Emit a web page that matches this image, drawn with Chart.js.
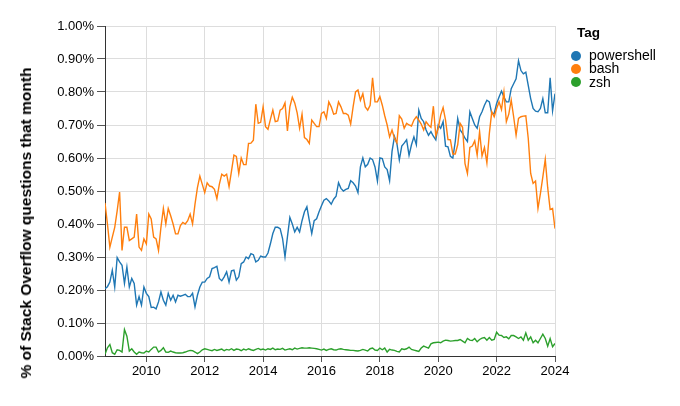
<!DOCTYPE html>
<html>
<head>
<meta charset="utf-8">
<script src="https://cdn.jsdelivr.net/npm/chart.js@4.4.1/dist/chart.umd.min.js"></script>
<style>
  body { margin: 0; background: #fff; }
  #wrap { position: relative; width: 680px; height: 406px; font-family: "Liberation Sans", Arial, sans-serif; color: #000; }
  #ytitle { position: absolute; left: 26px; top: 223px; transform: translate(-50%, -50%) rotate(-90deg); white-space: nowrap; font-weight: bold; font-size: 15.5px; }
  #legend { position: absolute; left: 570px; top: 24px; }
  #legend .title { font-weight: bold; font-size: 13.5px; margin-left: 7px; height: 25px; line-height: 18px; }
  #legend .item { position: relative; height: 13.3px; line-height: 13.3px; font-size: 14px; padding-left: 19px; }
  #legend .dot { position: absolute; left: 1px; top: 1.6px; width: 10px; height: 10px; border-radius: 50%; }
</style>
</head>
<body>
<div id="wrap">
  <canvas id="tagChart" width="680" height="406"></canvas>
  <div id="ytitle">% of Stack Overflow questions that month</div>
  <div id="legend"></div>
</div>
<script>
// Months Aug 2008 .. Jan 2024
const months = [];
for (let k = 2008 * 12 + 7; k <= 2024 * 12; k++) {
    months.push(Math.floor(k / 12) + '-' + String(k % 12 + 1).padStart(2, '0'));
}

// % of questions per month, one row per year
const powershell = [
    0.204, 0.21, 0.224, 0.26, 0.209,
    0.298, 0.285, 0.275, 0.22, 0.27, 0.209, 0.235, 0.22, 0.154, 0.18, 0.154, 0.209,
    0.19, 0.18, 0.147, 0.148, 0.143, 0.164, 0.194, 0.169, 0.154, 0.19, 0.169, 0.184,
    0.164, 0.184, 0.181, 0.184, 0.187, 0.18, 0.18, 0.19, 0.149, 0.184, 0.209, 0.224,
    0.224, 0.235, 0.24, 0.265, 0.268, 0.272, 0.235, 0.228, 0.24, 0.255, 0.224, 0.258,
    0.26, 0.23, 0.24, 0.28, 0.285, 0.30, 0.295, 0.31, 0.307, 0.285, 0.29, 0.303,
    0.30, 0.30, 0.312, 0.34, 0.371, 0.39, 0.39, 0.386, 0.356, 0.30, 0.361, 0.42,
    0.40, 0.376, 0.39, 0.376, 0.41, 0.437, 0.452, 0.41, 0.371, 0.41, 0.416, 0.437,
    0.455, 0.472, 0.477, 0.47, 0.46, 0.475, 0.484, 0.525, 0.508, 0.50, 0.505, 0.508,
    0.531, 0.525, 0.515, 0.495, 0.573, 0.60, 0.573, 0.581, 0.60, 0.595, 0.573, 0.53,
    0.60, 0.598, 0.573, 0.565, 0.531, 0.62, 0.665, 0.644, 0.594, 0.636, 0.645, 0.655,
    0.608, 0.64, 0.664, 0.64, 0.745, 0.72, 0.71, 0.685, 0.669, 0.68, 0.666, 0.655,
    0.70, 0.69, 0.71, 0.636, 0.634, 0.605, 0.60, 0.65, 0.72, 0.685, 0.675, 0.66,
    0.65, 0.74, 0.72, 0.70, 0.69, 0.725, 0.74, 0.76, 0.775, 0.77, 0.735, 0.735,
    0.765, 0.785, 0.803, 0.785, 0.77, 0.77, 0.81, 0.825, 0.84, 0.895, 0.865, 0.855,
    0.86, 0.82, 0.78, 0.75, 0.742, 0.74, 0.75, 0.78, 0.737, 0.737, 0.843, 0.743,
    0.795
];
const bash = [
    0.464, 0.40, 0.33, 0.36, 0.39,
    0.44, 0.497, 0.32, 0.39, 0.39, 0.35, 0.355, 0.36, 0.43, 0.33, 0.32, 0.355,
    0.34, 0.43, 0.415, 0.36, 0.355, 0.32, 0.39, 0.447, 0.40, 0.447, 0.425, 0.40,
    0.37, 0.37, 0.395, 0.405, 0.40, 0.41, 0.43, 0.40, 0.46, 0.51, 0.545, 0.52,
    0.495, 0.525, 0.515, 0.513, 0.505, 0.477, 0.52, 0.551, 0.545, 0.551, 0.513, 0.56,
    0.609, 0.605, 0.553, 0.60, 0.58, 0.58, 0.644, 0.645, 0.654, 0.763, 0.705, 0.708,
    0.755, 0.695, 0.687, 0.717, 0.745, 0.71, 0.712, 0.745, 0.75, 0.767, 0.682, 0.755,
    0.784, 0.767, 0.737, 0.69, 0.733, 0.662, 0.656, 0.644, 0.715, 0.705, 0.695, 0.695,
    0.735, 0.74, 0.72, 0.77, 0.755, 0.733, 0.735, 0.77, 0.755, 0.735, 0.735, 0.73,
    0.703, 0.755, 0.80, 0.806, 0.775, 0.795, 0.755, 0.745, 0.76, 0.843, 0.77, 0.77,
    0.786, 0.76, 0.728, 0.70, 0.664, 0.685, 0.66, 0.646, 0.728, 0.718, 0.69, 0.705,
    0.70, 0.697, 0.715, 0.725, 0.715, 0.703, 0.685, 0.71, 0.70, 0.693, 0.757, 0.667,
    0.69, 0.73, 0.753, 0.715, 0.656, 0.655, 0.612, 0.612, 0.64, 0.705, 0.693, 0.583,
    0.553, 0.632, 0.636, 0.652, 0.609, 0.68, 0.606, 0.632, 0.585, 0.674, 0.74, 0.725,
    0.75, 0.77, 0.747, 0.80, 0.71, 0.733, 0.775, 0.725, 0.669, 0.72, 0.725, 0.727,
    0.728, 0.66, 0.553, 0.523, 0.53, 0.447, 0.492, 0.543, 0.596, 0.51, 0.444, 0.447,
    0.386
];
const zsh = [
    0.005, 0.025, 0.035, 0.01, 0.005,
    0.019, 0.017, 0.012, 0.08, 0.06, 0.015, 0.022, 0.012, 0.005, 0.012, 0.01, 0.009,
    0.015, 0.012, 0.02, 0.027, 0.027, 0.012, 0.017, 0.025, 0.012, 0.011, 0.015, 0.012,
    0.01, 0.009, 0.009, 0.01, 0.012, 0.015, 0.017, 0.016, 0.012, 0.007, 0.012, 0.019,
    0.022, 0.02, 0.018, 0.016, 0.02, 0.017, 0.019, 0.021, 0.016, 0.02, 0.018, 0.022,
    0.017, 0.021, 0.02, 0.016, 0.021, 0.018, 0.022, 0.019, 0.017, 0.02, 0.023, 0.019,
    0.021, 0.018, 0.022, 0.02, 0.024, 0.019, 0.021, 0.02, 0.023, 0.018, 0.02, 0.022,
    0.019, 0.024, 0.021, 0.023, 0.025, 0.024, 0.024, 0.025, 0.024, 0.023, 0.022, 0.02,
    0.018, 0.021, 0.017, 0.02, 0.022, 0.019, 0.018, 0.021, 0.022, 0.02, 0.019, 0.018,
    0.017, 0.017, 0.016, 0.015, 0.017, 0.02, 0.018, 0.015, 0.022, 0.024, 0.018, 0.017,
    0.024, 0.019, 0.024, 0.012, 0.02, 0.018, 0.017, 0.014, 0.012, 0.022, 0.02, 0.022,
    0.027, 0.02, 0.018, 0.016, 0.014, 0.024, 0.03, 0.027, 0.024, 0.037, 0.04, 0.041,
    0.042, 0.04, 0.045, 0.048, 0.047, 0.045, 0.046, 0.047, 0.047, 0.05, 0.045, 0.04,
    0.053, 0.048, 0.047, 0.053, 0.043, 0.05, 0.054, 0.056, 0.048, 0.056, 0.048, 0.05,
    0.072, 0.063, 0.062, 0.056, 0.058, 0.052, 0.062, 0.062, 0.058, 0.053, 0.058, 0.048,
    0.07, 0.048, 0.058, 0.04, 0.048, 0.04, 0.053, 0.066, 0.053, 0.03, 0.053, 0.028,
    0.038
];

const tags = ['powershell', 'bash', 'zsh'];
const tagColors = ['#1f77b4', '#ff7f0e', '#2ca02c'];
const yearTicks = [2010, 2012, 2014, 2016, 2018, 2020, 2022, 2024];

// "2008-08" -> 2008.583
function toX(s) {
    const [y, m] = s.split('-').map(Number);
    return y + (m - 1) / 12;
}

const series = [powershell, bash, zsh];
const datasets = series.map((vals, k) => ({
    label: tags[k],
    data: months.map((mo, i) => ({ x: toX(mo), y: vals[i] })),
    borderColor: tagColors[k],
    borderWidth: 1.4,
    pointRadius: 0,
    tension: 0,
    fill: false,
    order: series.length - 1 - k
}));

const font = { family: '"Liberation Sans", Arial, sans-serif', size: 13 };

new Chart(document.getElementById('tagChart').getContext('2d'), {
    type: 'line',
    data: { datasets: datasets },
    options: {
        responsive: false,
        animation: false,
        layout: { padding: { top: 26, right: 125, bottom: 0, left: 0 } },
        plugins: { legend: { display: false }, tooltip: { enabled: false } },
        scales: {
            x: {
                type: 'linear',
                min: toX(months[0]),
                max: toX(months[months.length - 1]),
                afterBuildTicks: axis => { axis.ticks = yearTicks.map(v => ({ value: v })); },
                afterFit: axis => { axis.height = 50; },
                ticks: { callback: v => String(v), font: font, color: '#000', padding: 2, maxRotation: 0 },
                grid: { color: '#ddd', tickColor: '#555', tickLength: 6 },
                border: { color: '#333' }
            },
            y: {
                min: 0,
                max: 1,
                afterFit: axis => { axis.width = 105; },
                ticks: { stepSize: 0.1, callback: v => v.toFixed(2) + '%', font: font, color: '#000', padding: 3 },
                grid: { color: '#ddd', tickColor: '#555', tickLength: 8 },
                border: { color: '#333' }
            }
        }
    }
});

// legend
const legend = document.getElementById('legend');
legend.innerHTML = '<div class="title">Tag</div>' + tags.map((t, k) =>
    '<div class="item"><span class="dot" style="background:' + tagColors[k] + '"></span>' + t + '</div>'
).join('');
</script>
</body>
</html>
